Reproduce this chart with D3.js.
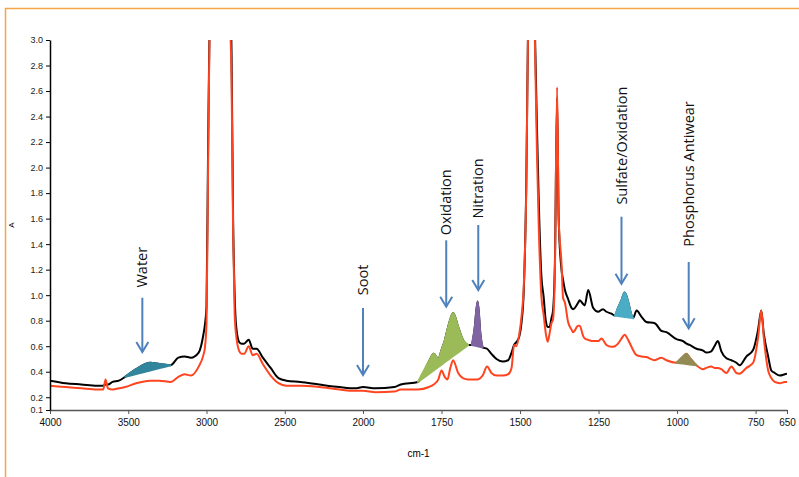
<!DOCTYPE html>
<html>
<head>
<meta charset="utf-8">
<script src="https://cdn.jsdelivr.net/npm/d3@7"></script>
<style>
	body { margin: 0; background: #fff; }
	svg { display: block; font-family: Arial, "Liberation Sans", sans-serif; }
	.note { font-family: "Open Sans", sans-serif; font-size: 14.5px; fill: #111; }
</style>
</head>
<body>
<div id="chart"></div>
<script>

// spectrum (cm-1, absorbance)
const wavenumber = [4000, 3900, 3800, 3700, 3660, 3645, 3630, 3600, 3560, 3520, 3450, 3360, 3300, 3230, 3180, 3140, 3100, 3050, 3020, 3010,
	3000, 2990, 2975, 2920, 2860, 2850, 2840, 2830, 2820, 2810, 2790, 2775, 2760, 2730, 2705, 2680, 2640, 2590, 2540, 2490,
	2400, 2280, 2150, 2050, 2000, 1960, 1900, 1880, 1825, 1790, 1775, 1760, 1750, 1740, 1731, 1722, 1713, 1697, 1682, 1665,
	1654, 1645, 1635, 1626, 1619, 1605, 1591, 1575, 1555, 1538, 1527, 1519, 1512, 1502, 1495, 1488, 1480, 1474, 1464, 1455,
	1452, 1446, 1440, 1432, 1425, 1418, 1412, 1406, 1400, 1395, 1389, 1382, 1377, 1368, 1363, 1357, 1347, 1336, 1331, 1315,
	1310, 1299, 1294, 1283, 1267, 1251, 1241, 1236, 1225, 1209, 1198, 1188, 1177, 1167, 1156, 1146, 1140, 1129, 1113, 1098,
	1071, 1050, 1034, 1002, 981, 970, 960, 938, 917, 907, 891, 881, 870, 859, 843, 827, 811, 801, 779, 758,
	742, 732, 724, 710, 700, 689, 673, 657, 650];

const usedOil = [0.33, 0.31, 0.30, 0.29, 0.29, 0.30, 0.30, 0.32, 0.33, 0.36, 0.42, 0.47, 0.46, 0.45, 0.51, 0.52, 0.51, 0.55, 0.69, 0.77,
	0.91, 2.14, 3.4, 4.0, 4.0, 3.5, 2.9, 1.6, 1.0, 0.75, 0.63, 0.62, 0.62, 0.65, 0.58, 0.58, 0.51, 0.43, 0.35, 0.33,
	0.32, 0.30, 0.28, 0.27, 0.28, 0.27, 0.28, 0.30, 0.32, 0.48, 0.54, 0.50, 0.57, 0.64, 0.73, 0.81, 0.86, 0.75, 0.65, 0.61,
	0.61, 0.73, 0.95, 0.69, 0.59, 0.58, 0.54, 0.50, 0.48, 0.49, 0.55, 0.61, 0.63, 0.68, 0.79, 1.04, 1.9, 3.2, 4.0, 3.3,
	3.0, 2.3, 1.7, 1.15, 0.99, 0.80, 0.75, 0.75, 0.82, 0.88, 1.25, 2.55, 1.6, 1.2, 1.12, 1.04, 0.97, 0.90, 0.89, 0.94,
	0.96, 0.93, 0.92, 1.04, 0.90, 0.87, 0.885, 0.89, 0.87, 0.855, 0.84, 0.90, 0.96, 1.02, 0.95, 0.85, 0.82, 0.88, 0.83, 0.79,
	0.78, 0.72, 0.71, 0.655, 0.64, 0.62, 0.61, 0.58, 0.565, 0.55, 0.56, 0.60, 0.64, 0.56, 0.505, 0.49, 0.47, 0.45, 0.52, 0.57,
	0.73, 0.88, 0.70, 0.52, 0.41, 0.39, 0.37, 0.38, 0.385];

const newOil = [0.29, 0.28, 0.27, 0.26, 0.26, 0.34, 0.27, 0.26, 0.27, 0.28, 0.31, 0.33, 0.33, 0.32, 0.36, 0.38, 0.37, 0.44, 0.53, 0.59,
	0.78, 1.98, 3.4, 4.0, 4.0, 3.2, 2.7, 1.5, 0.85, 0.68, 0.56, 0.54, 0.54, 0.60, 0.53, 0.54, 0.46, 0.37, 0.31, 0.29,
	0.29, 0.28, 0.26, 0.25, 0.25, 0.24, 0.245, 0.26, 0.26, 0.28, 0.30, 0.34, 0.41, 0.36, 0.34, 0.43, 0.49, 0.39, 0.35, 0.34,
	0.34, 0.34, 0.34, 0.35, 0.37, 0.44, 0.39, 0.37, 0.37, 0.38, 0.43, 0.61, 0.60, 0.70, 0.84, 1.08, 1.85, 3.2, 4.0, 3.3,
	2.9, 2.1, 1.5, 0.99, 0.85, 0.70, 0.635, 0.70, 0.78, 0.81, 1.2, 2.63, 1.6, 1.25, 0.98, 0.94, 0.79, 0.73, 0.71, 0.76,
	0.76, 0.68, 0.66, 0.65, 0.64, 0.64, 0.66, 0.65, 0.61, 0.595, 0.60, 0.62, 0.66, 0.69, 0.65, 0.60, 0.57, 0.53, 0.52, 0.515,
	0.49, 0.51, 0.49, 0.47, 0.52, 0.54, 0.51, 0.45, 0.42, 0.43, 0.44, 0.43, 0.43, 0.42, 0.39, 0.44, 0.39, 0.385, 0.43, 0.47,
	0.67, 0.88, 0.67, 0.41, 0.35, 0.32, 0.31, 0.32, 0.32];

const xTicks = [4000, 3500, 3000, 2500, 2000, 1750, 1500, 1250, 1000, 750, 650];
const yTicks = [0.1, 0.2, 0.4, 0.6, 0.8, 1.0, 1.2, 1.4, 1.6, 1.8, 2.0, 2.2, 2.4, 2.6, 2.8, 3.0];

// shaded bands: band edges in cm-1 and which trace they sit on
const bandFrom = [3520, 1825, 1654, 1198, 1002];
const bandTo = [3230, 1665, 1619, 1140, 938];
const bandTrace = ["used", "used", "used", "used", "new"];
const bandColor = ["#31859C", "#9BBB59", "#8064A2", "#4BACC6", "#948A54"];

// arrow callouts
const noteText = ["Water", "Soot", "Oxidation", "Nitration", "Sulfate/Oxidation", "Phosphorus Antiwear"];
const noteWn = [3410, 2000, 1735, 1633, 1177, 963];
const noteTip = [0.555, 0.374, 0.91, 1.04, 1.09, 0.74];
const noteTail = [0.98, 0.90, 1.43, 1.55, 1.615, 1.26];
const noteBase = [1.06, 1.0, 1.47, 1.60, 1.71, 1.38];


class SpectrumChart {

	constructor(parentElement) {
		this.parentElement = parentElement;
		this.initVis();
	}

	initVis() {
		let vis = this;

		vis.width = 799;
		vis.height = 477;
		vis.left = 50; vis.right = 787; vis.top = 40; vis.bottom = 410;

		vis.svg = d3.select("#" + vis.parentElement).append("svg")
			.attr("width", vis.width)
			.attr("height", vis.height);

		// orange frame
		vis.svg.append("rect")
			.attr("x", 5.5).attr("y", 8.5)
			.attr("width", 820).attr("height", 500)
			.attr("fill", "none")
			.attr("stroke", "#F5A545")
			.attr("stroke-width", 1.5);

		vis.svg.append("defs").append("clipPath")
			.attr("id", "clip")
			.append("rect")
			.attr("x", vis.left).attr("y", vis.top)
			.attr("width", vis.right - vis.left)
			.attr("height", vis.bottom - vis.top);

		// x axis switches scale at 2000 cm-1
		vis.x = d3.scaleLinear()
			.domain([4000, 2000, 650])
			.range([vis.left, 363, vis.right]);

		vis.y = d3.scaleLinear()
			.domain([0.1, 3.0])
			.range([vis.bottom, vis.top]);

		vis.data = wavenumber.map((w, i) => ({wn: w, used: usedOil[i], new: newOil[i]}));

		vis.updateVis();
	}

	updateVis() {
		let vis = this;

		let plot = vis.svg.append("g").attr("clip-path", "url(#clip)");

		let line = key => d3.line()
			.curve(d3.curveMonotoneX)
			.x(d => vis.x(d.wn))
			.y(d => vis.y(d[key]));

		plot.append("path")
			.datum(vis.data)
			.attr("d", line("used"))
			.attr("fill", "none")
			.attr("stroke", "#000")
			.attr("stroke-width", 2);

		plot.append("path")
			.datum(vis.data)
			.attr("d", line("new"))
			.attr("fill", "none")
			.attr("stroke", "#FF4420")
			.attr("stroke-width", 2);

		// shaded bands: area between the trace and a straight baseline
		bandFrom.forEach((from, i) => {
			let key = bandTrace[i];
			let pts = vis.data.filter(d => d.wn <= from && d.wn >= bandTo[i]);
			let a = pts[0], b = pts[pts.length - 1];
			let xa = vis.x(a.wn), xb = vis.x(b.wn);
			let ya = vis.y(a[key]), yb = vis.y(b[key]);

			let area = d3.area()
				.curve(d3.curveMonotoneX)
				.x(d => vis.x(d.wn))
				.y0(d => ya + (vis.x(d.wn) - xa) / (xb - xa) * (yb - ya))
				.y1(d => vis.y(d[key]));

			plot.append("path")
				.datum(pts)
				.attr("d", area)
				.attr("fill", bandColor[i])
				.attr("stroke", bandColor[i])
				.attr("stroke-width", 2)
				.attr("stroke-linejoin", "round");
		});

		// axes
		let yAxis = d3.axisLeft(vis.y)
			.tickValues(yTicks)
			.tickFormat(d3.format(".1f"))
			.tickSize(4)
			.tickSizeOuter(0);

		let xAxis = d3.axisBottom(vis.x)
			.tickValues(xTicks)
			.tickFormat(d3.format("d"))
			.tickSize(4)
			.tickPadding(5)
			.tickSizeOuter(0);

		let gx = vis.svg.append("g")
			.attr("transform", "translate(0," + vis.bottom + ")")
			.call(xAxis);
		gx.select(".domain").attr("stroke", "#555").attr("stroke-width", 1.5);
		gx.selectAll(".tick line").attr("stroke", "#555");
		gx.selectAll(".tick text").attr("font-size", 10).attr("fill", "#111");

		let gy = vis.svg.append("g")
			.attr("transform", "translate(" + vis.left + ",0)")
			.call(yAxis);
		gy.select(".domain").attr("stroke", "#000").attr("stroke-width", 1.5);
		gy.selectAll(".tick text").attr("font-size", 9).attr("fill", "#222");

		vis.svg.append("text")
			.attr("x", (vis.left + vis.right) / 2)
			.attr("y", 457)
			.attr("text-anchor", "middle")
			.attr("font-size", 10)
			.text("cm-1");

		vis.svg.append("text")
			.attr("transform", "translate(14," + ((vis.top + vis.bottom) / 2) + ") rotate(-90)")
			.attr("text-anchor", "middle")
			.attr("font-size", 8)
			.text("A");

		// callouts
		noteText.forEach((t, i) => {
			let cx = vis.x(noteWn[i]);
			let tip = vis.y(noteTip[i]);
			let g = vis.svg.append("g")
				.attr("stroke", "#4F81BD")
				.attr("stroke-width", 2)
				.attr("fill", "none");

			g.append("line")
				.attr("x1", cx).attr("x2", cx)
				.attr("y1", vis.y(noteTail[i])).attr("y2", tip);
			g.append("path")
				.attr("d", "M" + (cx - 6) + "," + (tip - 10) + "L" + cx + "," + tip + "L" + (cx + 6) + "," + (tip - 10));

			vis.svg.append("text")
				.attr("class", "note")
				.attr("transform", "translate(" + cx + "," + vis.y(noteBase[i]) + ") rotate(-90)")
				.attr("dy", "0.35em")
				.text(t);
		});
	}
}

new SpectrumChart("chart");

</script>
</body>
</html>
